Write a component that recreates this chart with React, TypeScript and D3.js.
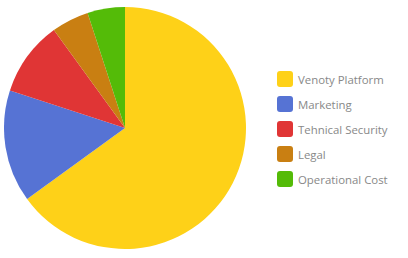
import React from "react";
import * as d3 from "d3";

const categories = ["Venoty Platform", "Marketing", "Tehnical Security", "Legal", "Operational Cost"];
const values = [65, 15, 10, 5, 5];
const colors = ["#fed118", "#5673d4", "#e03535", "#c97f12", "#54bb08"];

export default function App() {
  const width = 408;
  const height = 258;
  const cx = 125;
  const cy = 128;
  const r = 121;
  const data = categories.map((c, i) => ({ name: c, value: values[i], color: colors[i] }));
  const pie = d3.pie<any>().value((d) => d.value).sort(null);
  const arc = d3.arc<any>().innerRadius(0).outerRadius(r);
  const arcs = pie(data);
  const legendY = d3.scaleBand().domain(categories).range([71, 196]);
  return (
    <svg width={width} height={height} style={{ position: "absolute", left: 0, top: 0 }}>
      <g transform={`translate(${cx},${cy})`}>
        {arcs.map((a, i) => (
          <path key={i} d={arc(a) as string} fill={a.data.color} />
        ))}
      </g>
      {categories.map((c, i) => (
        <g key={c} transform={`translate(277,${legendY(c)})`}>
          <rect width={16} height={16} rx={3} ry={3} fill={colors[i]} />
          <text x={21} y={12.5} fontFamily="'Open Sans', sans-serif" fontSize={11.4} fill="#888">
            {c}
          </text>
        </g>
      ))}
    </svg>
  );
}
